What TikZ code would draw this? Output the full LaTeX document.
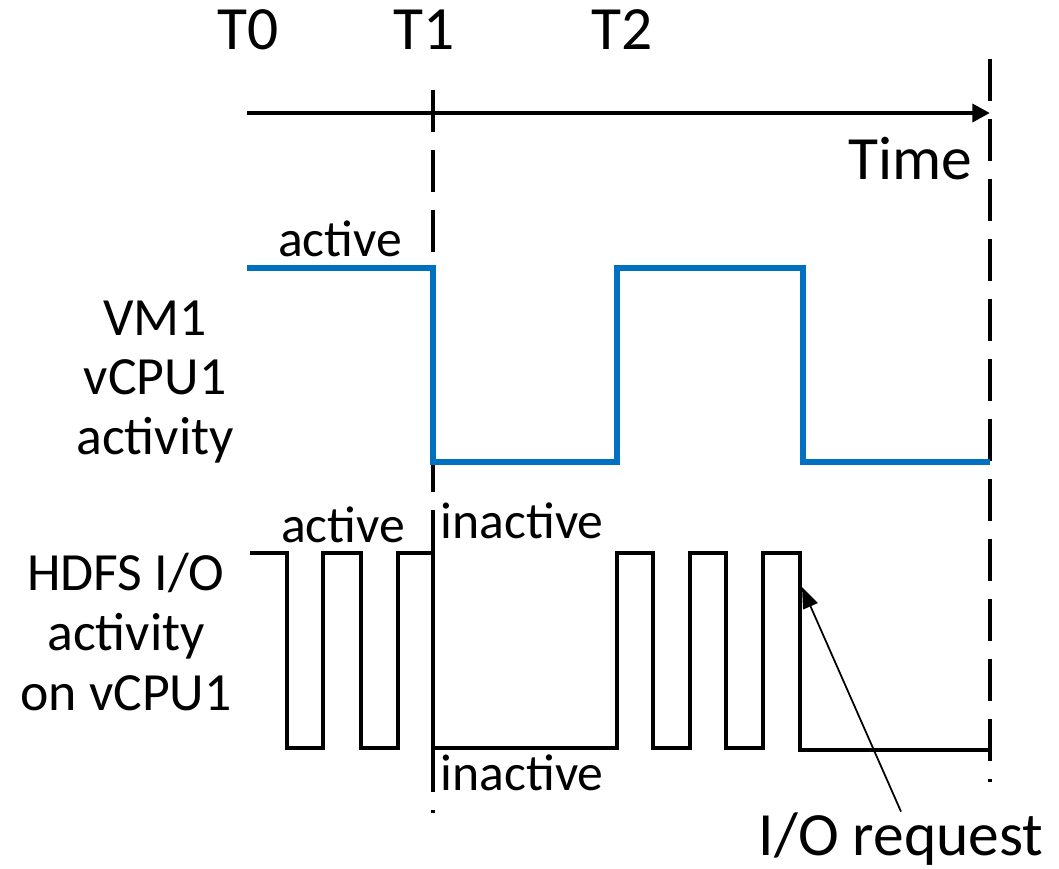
\documentclass[tikz,border=0pt]{standalone}
\usepackage{fontspec}
\setmainfont{Carlito}
\usetikzlibrary{arrows.meta}
\definecolor{vcpublue}{HTML}{0070C0}

\begin{document}
\begin{tikzpicture}[
    wave/.style={line width=1.4pt, line join=miter},
    marker/.style={line width=1.0pt, dash pattern=on 0.42cm off 0.18cm},
    lbl/.style={anchor=base, inner sep=0pt, font=\fontsize{14.7}{17}\selectfont},
    big/.style={anchor=base, inner sep=0pt, font=\fontsize{17.5}{21}\selectfont},
    side/.style={align=center, inner sep=0pt, font=\fontsize{15.3}{17}\selectfont}
]
    \useasboundingbox (0,0) rectangle (10.59,-8.69);

    % Time axis
    \draw[line width=1.4pt, -{Triangle[length=5pt,width=5pt]}] (2.47,-1.13) -- (9.90,-1.13);
    \node[big] (t0) at (2.48,-0.50) {T0};
    \node[big] (t1) at (4.24,-0.50) {T1};
    \node[big] (t2) at (6.22,-0.50) {T2};
    \node[big] (time) at (9.10,-1.80) {Time};

    % Dashed markers at T1 and at the end
    \draw[marker] (4.33,-0.90) -- (4.33,-8.13);
    \draw[marker] (9.90,-0.59) -- (9.90,-7.82);

    % VM1 vCPU1 activity
    \draw[wave, vcpublue, line width=1.8pt] (2.47,-2.68) -- (4.33,-2.68) -- (4.33,-4.62)
        -- (6.17,-4.62) -- (6.17,-2.68) -- (8.03,-2.68) -- (8.03,-4.62) -- (9.90,-4.62);
    \node[lbl] (actvm) at (3.40,-2.57) {active};
    \node[side] (vmlbl) at (1.55,-3.82) {VM1\\vCPU1\\activity};

    % HDFS I/O activity
    \draw[wave] (2.50,-5.53) -- (2.87,-5.53) -- (2.87,-7.48) -- (3.23,-7.48) -- (3.23,-5.53)
        -- (3.61,-5.53) -- (3.61,-7.48) -- (3.98,-7.48) -- (3.98,-5.53) -- (4.33,-5.53)
        -- (4.33,-7.48) -- (6.17,-7.48) -- (6.17,-5.53) -- (6.53,-5.53) -- (6.53,-7.48)
        -- (6.90,-7.48) -- (6.90,-5.53) -- (7.26,-5.53) -- (7.26,-7.48) -- (7.63,-7.48)
        -- (7.63,-5.53) -- (8.00,-5.53) -- (8.00,-7.50) -- (9.90,-7.50);
    \node[lbl] (acthdfs) at (3.43,-5.42) {active};
    \node[lbl, anchor=base west] (inactvm) at (4.40,-5.38) {inactive};
    \node[lbl, anchor=base west] (inacthdfs) at (4.40,-7.90) {inactive};
    \node[side] (hdfslbl) at (1.26,-6.32) {HDFS I/O\\activity\\on vCPU1};

    % I/O request pointer
    \node[big] (ioreq) at (9.01,-8.55) {I/O request};
    \coordinate (reqtip) at (8.02,-5.87);
    \draw[line width=0.5pt, -{Triangle[length=6pt,width=4.5pt]}] (ioreq.north) -- (reqtip);
\end{tikzpicture}
\end{document}
